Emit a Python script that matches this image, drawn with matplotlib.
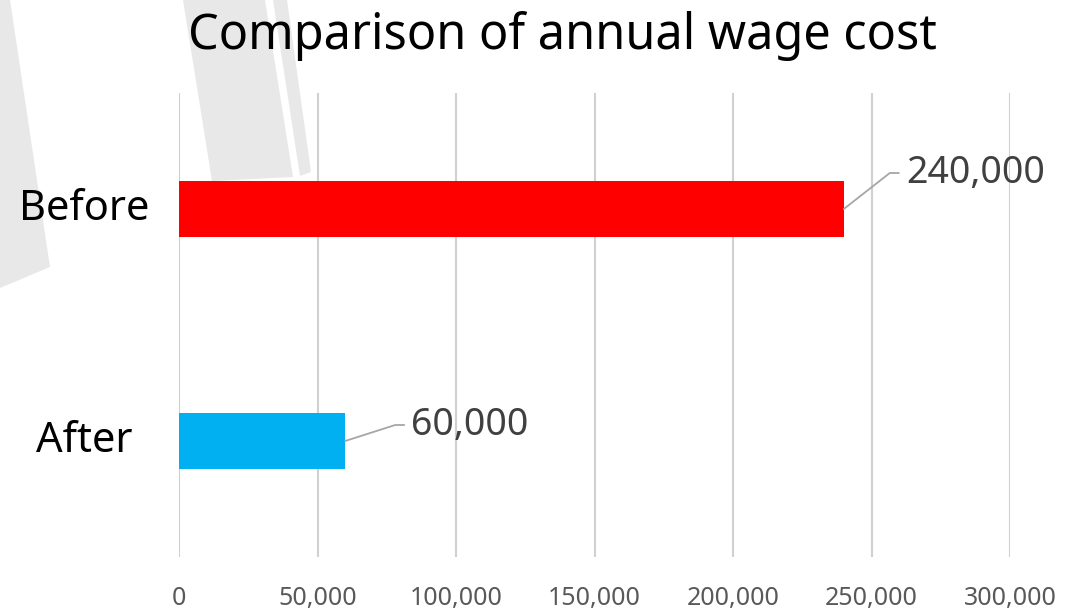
import math
import matplotlib
matplotlib.use("Agg")
import matplotlib.pyplot as plt
from matplotlib.patches import Polygon

categories = ["Before", "After"]
values = [240000, 60000]
bar_colors = ["#ff0000", "#00b0f0"]
x_ticks = [0, 50000, 100000, 150000, 200000, 250000, 300000]
title = "Comparison of annual wage cost"

plt.rcParams["font.family"] = ["Noto Sans", "DejaVu Sans"]

W, H = 1078, 612
fig = plt.figure(figsize=(W / 100, H / 100), dpi=100)

# light gray decorative shapes in the background (pixel coords, top-left origin)
shapes = [
    [(0, 0), (10, 0), (50, 267), (0, 288)],
    [(183, 0), (265, 0), (293, 177), (212, 181)],
    [(273, 0), (287, 0), (311, 172), (300, 176)],
]
for pts in shapes:
    fig.patches.append(Polygon([(x / W, 1 - y / H) for x, y in pts],
                               closed=True, transform=fig.transFigure,
                               facecolor="#e8e8e8", edgecolor="none", zorder=-5))

ax = fig.add_axes([179 / W, 1 - 557 / H, (1010 - 179) / W, (557 - 93) / H])
ax.set_zorder(1)
ax.patch.set_alpha(0)

ypos = list(range(len(categories)))
ax.barh(ypos, values, height=0.24, color=bar_colors, zorder=3)
ax.set_xlim(0, 300000)
ax.set_ylim(len(categories) - 0.5, -0.5)

ax.set_xticks(x_ticks)
ax.set_xticklabels([f"{t:,}" for t in x_ticks], fontsize=18, color="#595959")
ax.set_yticks(ypos)
ax.set_yticklabels(categories, fontsize=30, color="black", ha="center", va="center")
ax.tick_params(axis="x", length=0, pad=21)
ax.tick_params(axis="y", length=0, pad=68)

ax.grid(axis="x", color="#d0d0d0", linewidth=1.5, zorder=1)
for s in ax.spines.values():
    s.set_visible(False)

# data labels with leader lines (offsets in pixels from bar end)
offsets = [(62, 36), (66, 16)]
for y, v, (dx, dy) in zip(ypos, values, offsets):
    ang = math.degrees(math.atan2(dy, dx - 16))
    ax.annotate(f"{v:,}", xy=(v, y), xytext=(dx, dy), textcoords="offset pixels",
                ha="left", va="center", fontsize=27, color="#404040",
                arrowprops=dict(arrowstyle="-", color="#a6a6a6", lw=1.3,
                                shrinkA=3, shrinkB=0,
                                connectionstyle=f"angle,angleA=0,angleB={ang},rad=0"))

fig.text(562 / W, 1 - 36 / H, title, ha="center", va="center", fontsize=35, color="black")

fig.savefig("out.png", dpi=100)
